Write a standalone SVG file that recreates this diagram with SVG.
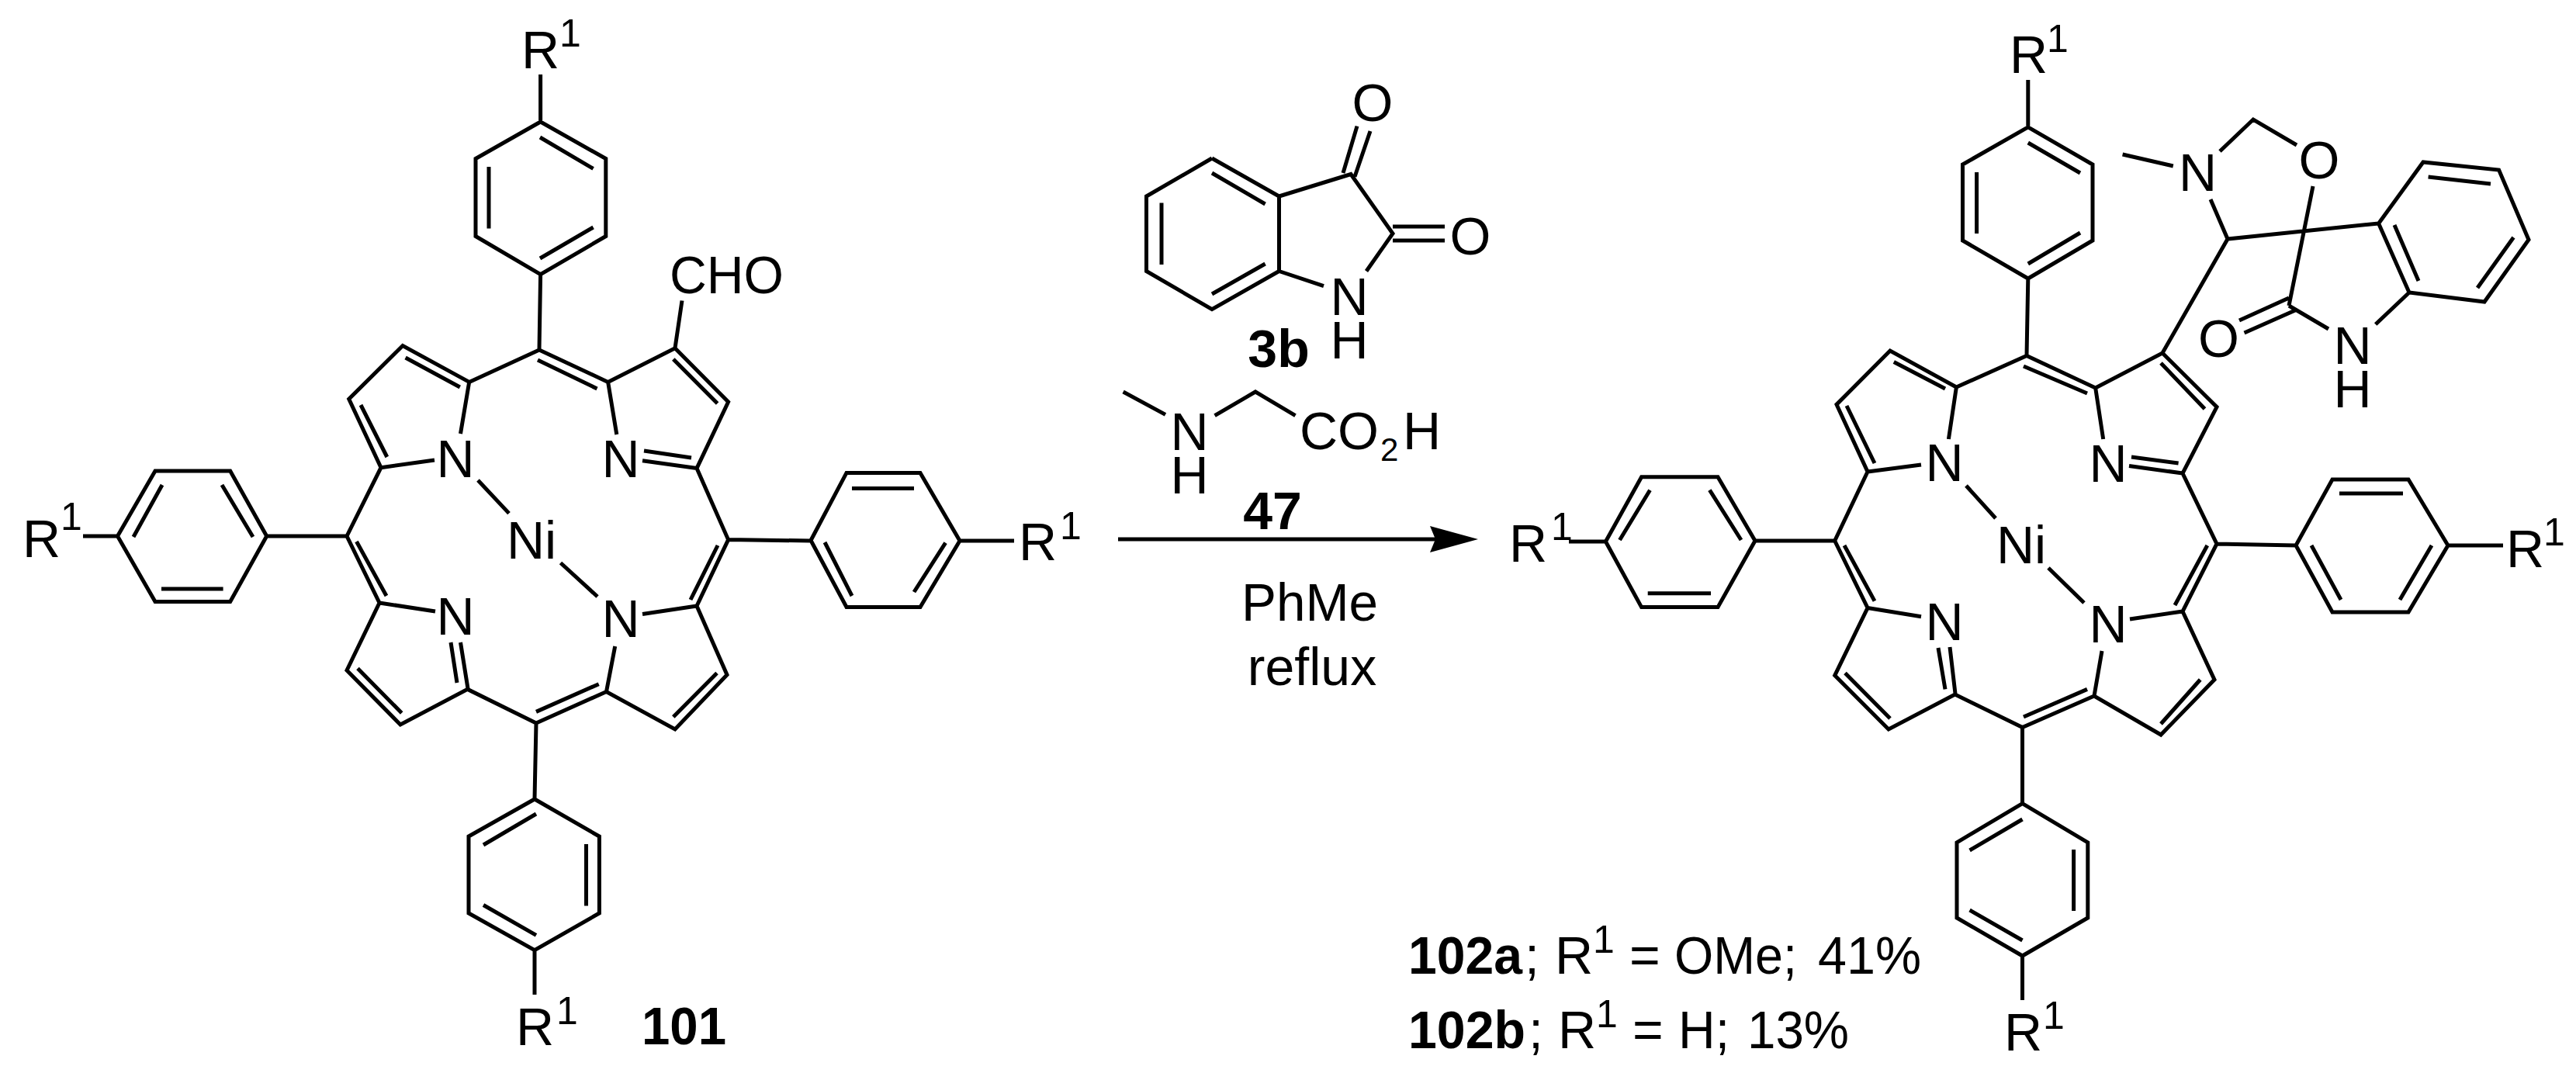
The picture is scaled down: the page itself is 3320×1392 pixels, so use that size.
<svg xmlns="http://www.w3.org/2000/svg" width="3320" height="1392" viewBox="0 0 3320 1392">
<style>
.b{fill:none;stroke:#000;stroke-width:5;stroke-linecap:butt;stroke-linejoin:miter}
text{font-family:"Liberation Sans",Arial,sans-serif;font-size:68px;fill:#000}
.c{text-anchor:middle}
.s{font-size:50px}
.sub{font-size:42px}
.h{font-weight:700}
</style>
<rect width="3320" height="1392" fill="#fff"/>
<g id="compound-101">
<path class="b" d="M696.6 96V157L780.8 204.5V304.5L696.6 353.6L613 304.5V204.5L696.6 157M696 177L764.6 217.4M630 215V294.6M696 333L764.6 293M696.6 353.6L695 451
M604.7 492.4L695 451L783.6 492.4L870 448.7L938.6 518L898 603.6L938.6 695.6L898 781L937 869.7L870 940L781.5 891.5L691 932L602.6 888.4L516 934L447 864L489 777L447 691L491 602.7L449.7 514.3L519 445.5L604.7 492.4
M522.6 461L592.8 499M465 522L498.8 589M604.7 492.4L593.5 559M491 602.7L560 593M693 464L769.5 501M783.6 492.4L794.8 560M867.8 463L924.6 520M898 603.6L828 593.8M891 590L830 581M870 448.7L879 387.5
M938.6 695.6L1045 697M925 703L890 773M898 781L828 791.5M781.5 891.5L792.7 833M924 867.5L867.8 924M771.7 881.7L691 917.4M489 777L561 788M581 828L589 880M593.5 828L603 887.5M461 861.6L517.7 919M459.5 698L498 768
M616 619L656 661.6M722.5 725.5L770 769
M447 691H343.7L296.7 607H200L151.5 691L200 775.5H296.7L343.7 691M209 625L172 692M286 625L326 692M208 759H287.6M107 691H151.5
M1045 696.5L1091 609.4H1186L1237 697L1186 782.5H1091L1045 696.5M1098 629.5H1178M1178 763L1218.6 699.6M1063 699L1098 768M1237 697H1307
M691 932L689 1030L772.4 1078V1177L689 1224.6L604 1177V1078L689 1030M623 1089L691 1049M755.5 1088V1167.5M623 1166.5L691 1205.4M689 1224.6V1282"/>
<text x="672" y="88">R</text><text class="s" x="721" y="60">1</text>
<text x="863" y="378" textLength="147" lengthAdjust="spacingAndGlyphs">CHO</text>
<text class="c" x="587" y="615">N</text>
<text class="c" x="800" y="615">N</text>
<text x="653" y="720">Ni</text>
<text class="c" x="587" y="818">N</text>
<text class="c" x="800" y="821">N</text>
<text x="29" y="718">R</text><text class="s" x="78" y="683">1</text>
<text x="1313" y="722">R</text><text class="s" x="1366" y="695">1</text>
<text x="665" y="1347">R</text><text class="s" x="717" y="1320">1</text>
<text class="h" x="827" y="1346" textLength="109" lengthAdjust="spacingAndGlyphs">101</text>
</g>
<g id="compound-3b">
<path class="b" d="M1562 204L1648.5 253V349.5L1562 398.6L1477.5 349.5V253L1562 204M1562 223L1630.6 263M1497 261.5V341M1562 379L1630.6 340M1648.5 253L1741 224.5L1795 301L1761 349.5M1648.5 349.5L1706 368.6M1731 223L1749 162.6M1746 227.7L1766 169M1795 292H1862M1795 310H1862"/>
<text class="c" x="1769" y="156">O</text>
<text class="c" x="1895" y="328">O</text>
<text class="c"><tspan x="1739" y="406">N</tspan><tspan x="1739" y="462">H</tspan></text>
<text class="c h" x="1648" y="473">3b</text>
</g>
<g id="compound-47">
<path class="b" d="M1447.6 505L1502 534.4M1565.6 535.7L1618 505L1669.5 535.7"/>
<text class="c"><tspan x="1533" y="580">N</tspan><tspan x="1533" y="636">H</tspan></text>
<text x="1675" y="579">CO</text><text class="sub" x="1779" y="594">2</text><text x="1808" y="579">H</text>
<text class="c h" x="1640" y="682">47</text>
</g>
<g id="conditions">
<text x="1600" y="800" textLength="176" lengthAdjust="spacingAndGlyphs">PhMe</text>
<text class="c" x="1691" y="883">reflux</text>
</g>
<g id="compound-102">
<path class="b" d="M2613.8 103V163.8L2697 212V310L2613.8 359L2529.5 310V212L2613.8 163.8M2613.8 184L2681 223M2547.6 222V301M2613.8 340L2681 300M2613.8 359L2612 458.5
M2521.4 499L2612 458.5L2700.7 500L2787 455L2857 524.6L2813 610L2857 701L2813 788L2854 876L2785 947L2699 897L2606.5 937.5L2519.6 895L2434 940L2364.7 870.6L2407 783.5L2364.7 697L2407 608L2367 521.4L2436 452L2521.4 499
M2440.8 466.5L2507 501M2380 523L2416 597M2521.4 499L2511.4 566M2407 608L2476 599M2608 472L2690 507M2700.7 500L2710.7 566M2785 468L2841.5 527M2813 610L2744 600.5M2807.6 597L2747 589
M2377 703L2416 774.6M2407 783.5L2476 794.7M2378 867.4L2436 926M2835.7 876L2785 933M2699 897L2709 839M2813 788L2745 798M2608 924L2690 888.4M2844.8 703L2803 780M2498 835L2507 888.4M2513 834L2520 894
M2534 626L2572 668M2640 732L2686 777
M2364.7 697H2262L2214 614.7H2115.6L2069.4 698L2115.6 782.6H2214L2262 697M2126.5 631.7L2087.5 696M2203.4 631.7L2244 696M2123.7 764.8H2205M2022 698H2069.4
M2857 701L2959 703L3006 618H3104L3155 703L3104 789H3006L2959 703M3015 636H3097M2979 703L3017 773M3134 703L3093 773M3155 703H3226
M2606.5 937.5V1035.7L2690.8 1085.8V1183L2606.5 1232L2522 1183V1085.8L2606.5 1035.7M2538.6 1096L2606.5 1056M2672.6 1095V1174M2538.6 1173L2606.5 1212M2606.5 1232V1289
M2735.6 199L2800.8 214M2861 195L2904 154L2960 187M2981 240L2950 394M2849 257L2871 308L3065.6 288M2871 308L2787 455
M3065.6 288L3123 209L3220.6 219L3259 309L3202 389L3105 377L3065.6 288M3129.6 228L3210 237M3239.5 306L3193 371M3086 290L3117 362M3105 377L3061.7 418M2950 394L3001 424M2950 384L2886 413M2958 400L2892.5 429"/>
<text x="2590" y="94">R</text><text class="s" x="2638" y="67">1</text>
<text class="c" x="2506" y="620">N</text>
<text class="c" x="2717" y="621">N</text>
<text x="2573" y="726">Ni</text>
<text class="c" x="2506" y="825">N</text>
<text class="c" x="2717" y="828">N</text>
<text x="1945" y="724">R</text><text class="s" x="1999" y="696">1</text>
<text x="3230" y="731">R</text><text class="s" x="3278" y="703">1</text>
<text x="2583" y="1354">R</text><text class="s" x="2633" y="1326">1</text>
<text class="c" x="2832.5" y="246">N</text>
<text class="c" x="2989" y="230">O</text>
<text class="c" x="2859.5" y="460">O</text>
<text class="c"><tspan x="3032" y="469">N</tspan><tspan x="3032" y="525">H</tspan></text>
</g>
<g id="yields">
<text class="h" x="1815" y="1255" textLength="147" lengthAdjust="spacingAndGlyphs">102a</text><text x="1965" y="1255">;</text><text x="2004" y="1255">R</text><text class="s" x="2053" y="1228">1</text><text x="2100" y="1255">=</text><text x="2158" y="1255" textLength="158" lengthAdjust="spacingAndGlyphs">OMe;</text><text x="2343" y="1255" textLength="133" lengthAdjust="spacingAndGlyphs">41%</text>
<text class="h" x="1815" y="1351" textLength="151" lengthAdjust="spacingAndGlyphs">102b</text><text x="1970" y="1351">;</text><text x="2008" y="1351">R</text><text class="s" x="2057" y="1324">1</text><text x="2104" y="1351">=</text><text x="2163" y="1351" textLength="66" lengthAdjust="spacingAndGlyphs">H;</text><text x="2252" y="1351" textLength="131" lengthAdjust="spacingAndGlyphs">13%</text>
</g>
<g id="connectors">
<path class="b" d="M1441 695H1850"/>
<path d="M1905 695L1843 678L1850 695L1843 712Z" fill="#000"/>
</g>
</svg>
